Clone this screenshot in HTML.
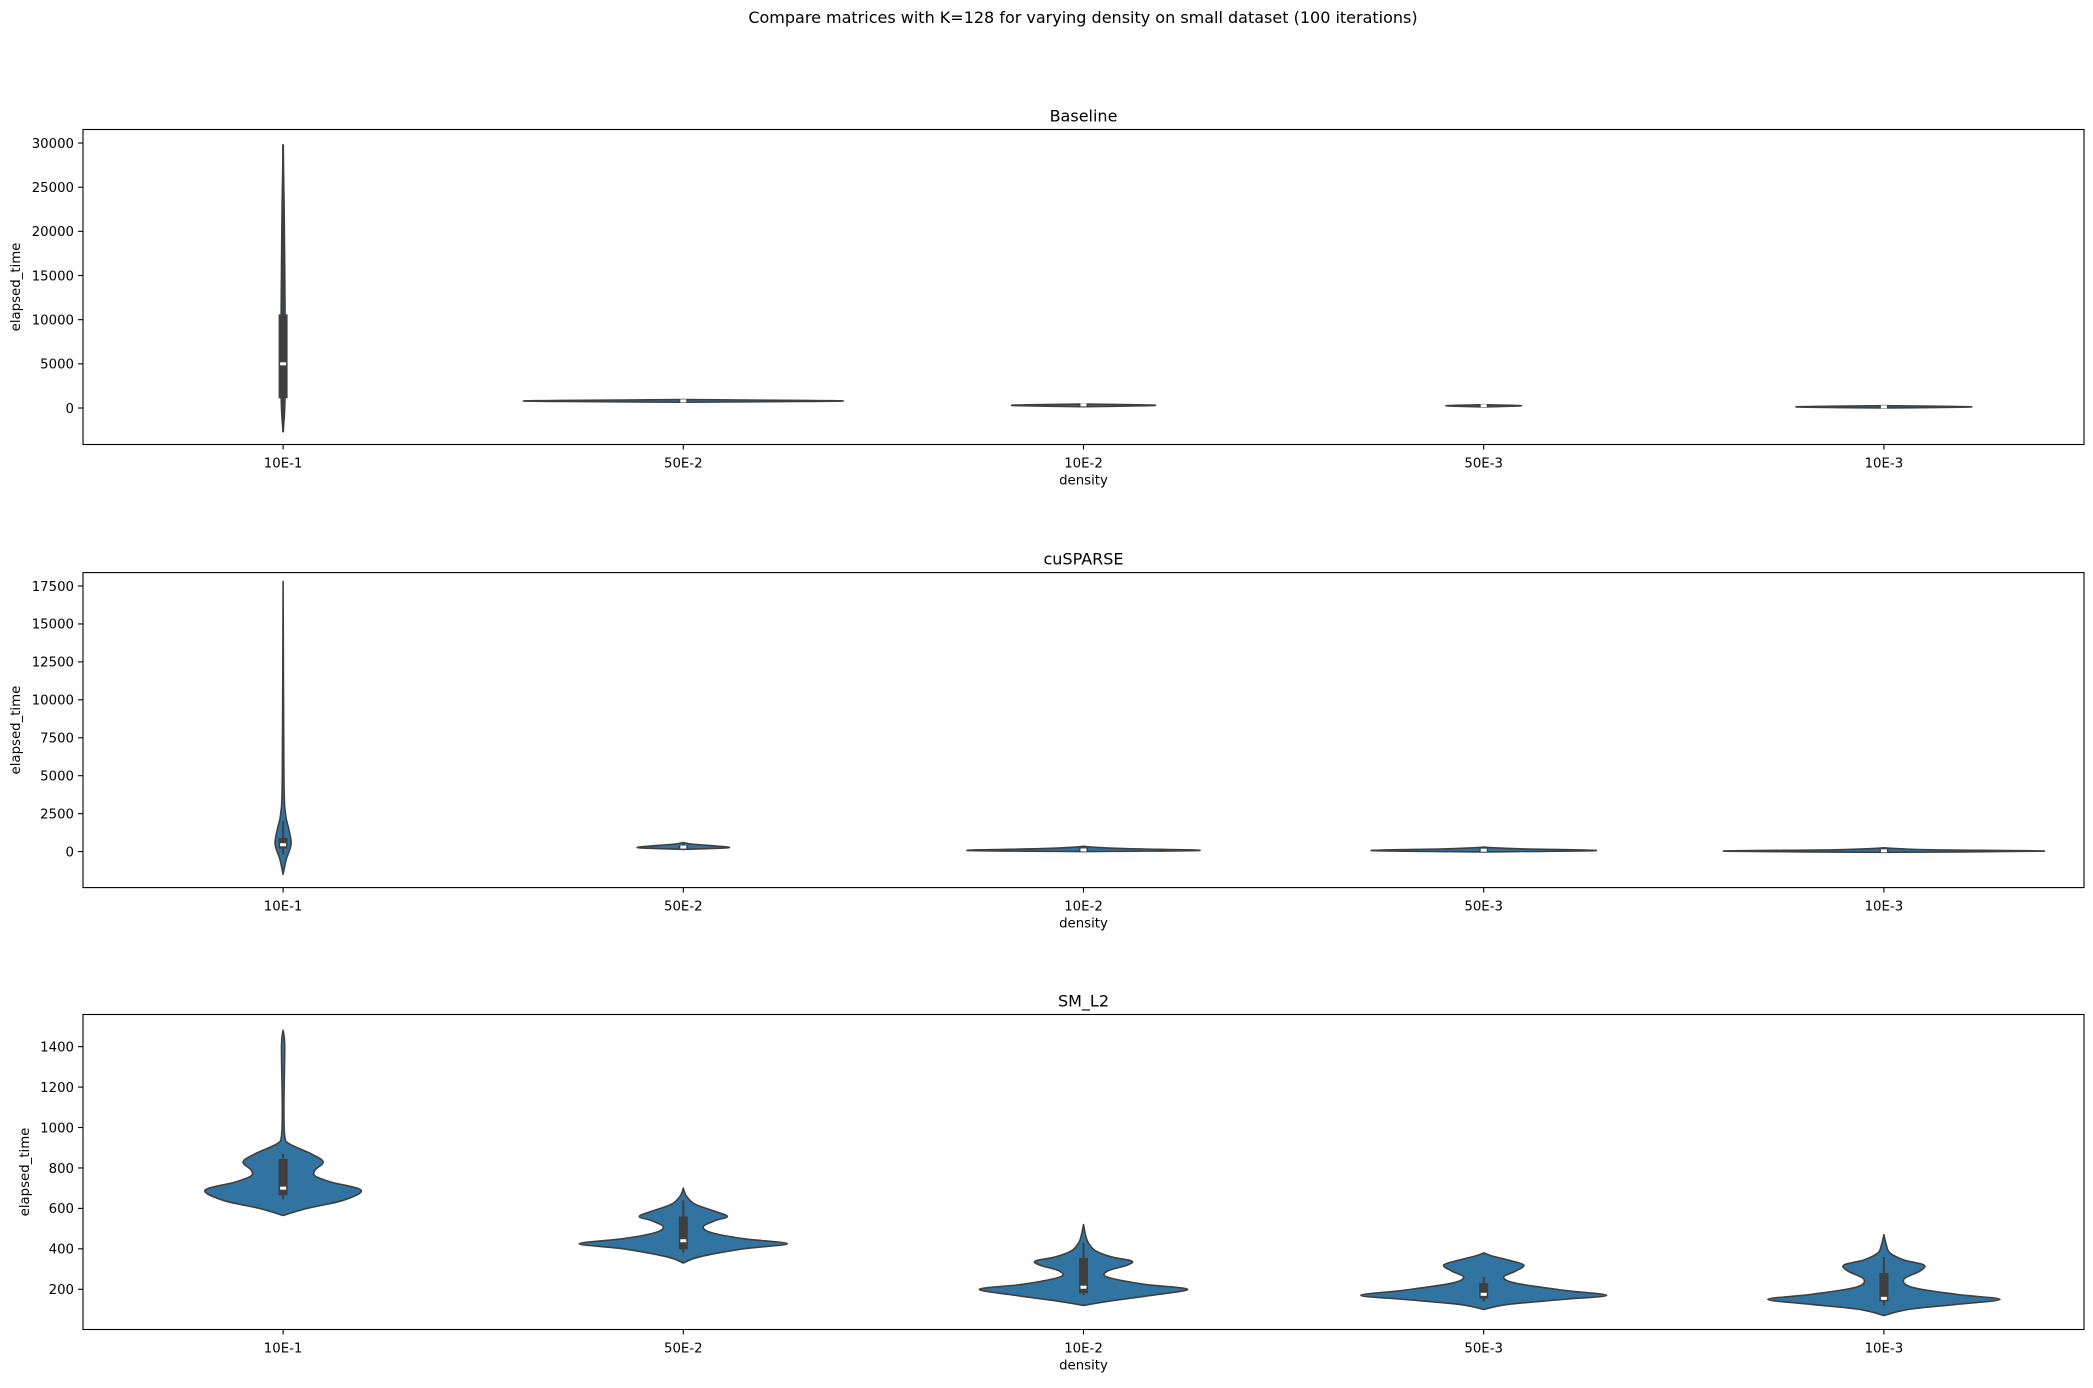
<!DOCTYPE html>
<html><head><meta charset="utf-8"><style>
body{margin:0;background:#fff;}
svg text{font-family:"DejaVu Sans","Liberation Sans",sans-serif;fill:#000;}
</style></head><body>
<svg id="chart" width="2093" height="1383" viewBox="0 0 2093 1383" xmlns="http://www.w3.org/2000/svg">
<rect width="2093" height="1383" fill="#fff"/>
<text x="1083" y="23" font-size="16" text-anchor="middle">Compare matrices with K=128 for varying density on small dataset (100 iterations)</text>
</svg>
<script>
const categories = ["10E-1","50E-2","10E-2","50E-3","10E-3"];
const panelTitles = ["Baseline","cuSPARSE","SM_L2"];
const ticks0 = [0,5000,10000,15000,20000,25000,30000];
const ticks1 = [0,2500,5000,7500,10000,12500,15000,17500];
const ticks2 = [200,400,600,800,1000,1200,1400];
// violin profiles: values and half-widths (fraction of category width)
const base_v = [[-2700,0,5000,10000,21000,29800],[650,740,800,860,950],[150,240,300,360,450],[120,200,250,300,380],[0,80,130,180,260]];
const base_w = [[0,0.004,0.006,0.005,0.003,0],[0,0.3,0.4,0.3,0],[0,0.14,0.18,0.14,0],[0,0.07,0.095,0.07,0],[0,0.17,0.22,0.17,0]];
const base_box = [[1100,10600,5000,-2700,29800],[780,820,800,760,840],[270,330,350,250,380],[220,280,260,200,320],[110,150,130,100,170]];
const cu_v = [[-1500,-500,500,1500,2500,5000,17800],[150,250,350,500,600],[0,80,200,300,350],[-20,70,180,260,300],[-50,30,120,200,250]];
const cu_w = [[0,0.008,0.02,0.014,0.006,0.002,0],[0,0.11,0.09,0.02,0],[0,0.29,0.1,0.02,0],[0,0.28,0.1,0.02,0],[0,0.4,0.12,0.03,0]];
const cu_box = [[200,900,450,-200,2000],[220,420,300,180,520],[40,250,110,20,320],[40,200,90,20,260],[20,150,50,0,220]];
const sm_v = [[565,600,640,690,730,760,790,830,870,920,960,1100,1400,1480],[330,360,400,425,450,480,510,540,560,585,620,660,700],[120,140,170,200,225,260,290,320,340,360,390,430,470,520],[100,125,150,170,195,230,260,290,320,345,365,380],[70,100,125,150,175,210,250,290,320,345,380,420,470]];
const sm_w = [[0,0.06,0.15,0.195,0.12,0.08,0.08,0.1,0.07,0.015,0.004,0.002,0.004,0],[0,0.04,0.15,0.26,0.15,0.07,0.05,0.08,0.11,0.08,0.03,0.008,0],[0,0.06,0.17,0.26,0.15,0.06,0.06,0.11,0.12,0.07,0.03,0.012,0.005,0],[0,0.06,0.2,0.307,0.2,0.08,0.05,0.08,0.1,0.06,0.02,0],[0,0.06,0.18,0.29,0.18,0.07,0.05,0.09,0.1,0.05,0.015,0.006,0]];
const sm_box = [[665,845,700,645,870],[398,560,440,380,640],[180,355,210,170,430],[155,230,175,140,260],[140,280,155,120,360]];

const panels = [
 {title:panelTitles[0], top:129.5, bottom:444.5, ymin:-4132, ymax:31530, ticks:ticks0, v:base_v, w:base_w, box:base_box, ylx:16},
 {title:panelTitles[1], top:572.6, bottom:887.6, ymin:-2372, ymax:18383, ticks:ticks1, v:cu_v, w:cu_w, box:cu_box, ylx:16},
 {title:panelTitles[2], top:1014.5, bottom:1329.5, ymin:1, ymax:1559, ticks:ticks2, v:sm_v, w:sm_w, box:sm_box, ylx:25}
];
const NS = "http://www.w3.org/2000/svg";
const svg = document.getElementById('chart');
const L = 83, R = 2084, catW = (R-L)/categories.length;
function mk(t, a, parent){const e=document.createElementNS(NS,t);for(const k in a)e.setAttribute(k,a[k]);(parent||svg).appendChild(e);return e;}
function smooth(pts){
  let d = "M"+pts[0][0]+","+pts[0][1];
  for(let i=0;i<pts.length-1;i++){
    const p0=pts[Math.max(i-1,0)],p1=pts[i],p2=pts[i+1],p3=pts[Math.min(i+2,pts.length-1)];
    const c1=[p1[0]+(p2[0]-p0[0])/6,p1[1]+(p2[1]-p0[1])/6];
    const c2=[p2[0]-(p3[0]-p1[0])/6,p2[1]-(p3[1]-p1[1])/6];
    d+=" C"+c1[0].toFixed(2)+","+c1[1].toFixed(2)+" "+c2[0].toFixed(2)+","+c2[1].toFixed(2)+" "+p2[0].toFixed(2)+","+p2[1].toFixed(2);
  }
  return d;
}
panels.forEach((p,pi)=>{
  const g = mk('g',{});
  
  
  const y = v => p.bottom - (v-p.ymin)/(p.ymax-p.ymin)*(p.bottom-p.top);
  const x = i => L + catW*(i+0.5);
  const t = mk('text',{x:(L+R)/2,y:p.top-8,'font-size':16,'text-anchor':'middle'},g);
  t.textContent = p.title;
  
  
  categories.forEach((c,i)=>{
    const vs=p.v[i], ws=p.w[i], cx=x(i);
    const right = vs.map((v,k)=>[cx+ws[k]*catW, y(v)]);
    const left = vs.map((v,k)=>[cx-ws[k]*catW, y(v)]).reverse();
    const d = smooth(right) + " L" + smooth(left).slice(1) + " Z";
    const path = mk('path',{d:d,fill:'#3274a1',stroke:'#3f3f3f','stroke-width':1.6,'stroke-linejoin':'round'},g);
    
    
    const b=p.box[i];
    const wh = mk('line',{x1:cx,x2:cx,y1:y(b[3]),y2:y(b[4]),stroke:'#3f3f3f','stroke-width':2},g);
    
    
    const bx = mk('rect',{x:cx-4.5,y:y(b[1]),width:9,height:Math.max(1,y(b[0])-y(b[1])),fill:'#3f3f3f'},g);
    
    
    const md = mk('rect',{x:cx-3,y:y(b[2])-1.5,width:6,height:3,fill:'#fff'},g);
    
    
    const tk = mk('line',{x1:cx,x2:cx,y1:p.bottom,y2:p.bottom+5,stroke:'#000','stroke-width':1.1},g);
    
    
    const tl = mk('text',{x:cx,y:p.bottom+23,'font-size':13.3,'text-anchor':'middle'},g);
    tl.textContent = c;
    
    
  });
  p.ticks.forEach(v=>{
    const yy=y(v);
    const tk = mk('line',{x1:L-5,x2:L,y1:yy,y2:yy,stroke:'#000','stroke-width':1.1},g);
    
    
    const tl = mk('text',{x:L-9,y:yy+4.8,'font-size':13.3,'text-anchor':'end'},g);
    tl.textContent = v;
    
    
  });
  const frame = mk('rect',{x:L,y:p.top,width:R-L,height:p.bottom-p.top,fill:'none',stroke:'#000','stroke-width':1.1},g);
  
  
  const yl = mk('text',{x:0,y:0,'font-size':13.3,'text-anchor':'middle',transform:'translate('+(p.ylx+4)+','+((p.top+p.bottom)/2)+') rotate(-90)'},g);
  yl.textContent = 'elapsed_time';
  
  
  const xl = mk('text',{x:(L+R)/2,y:p.bottom+40,'font-size':13.3,'text-anchor':'middle'},g);
  xl.textContent = 'density';
  
  
});
</script>
</body></html>
